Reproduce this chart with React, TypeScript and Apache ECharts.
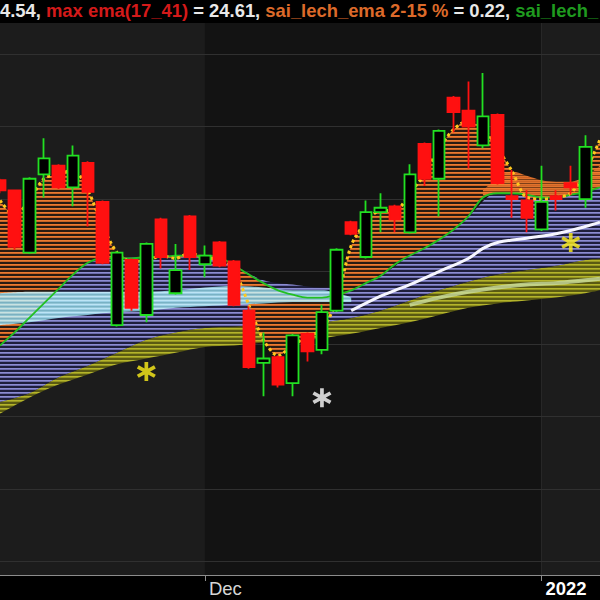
import React, { useEffect, useRef } from "react";
import * as echarts from "echarts";

// ---------- data ----------
const dates = [
  "2021-11-11", "2021-11-12", "2021-11-15", "2021-11-16", "2021-11-17", "2021-11-18", "2021-11-19",
  "2021-11-22", "2021-11-23", "2021-11-24", "2021-11-25", "2021-11-26", "2021-11-29", "2021-11-30",
  "2021-12-01", "2021-12-02", "2021-12-03", "2021-12-06", "2021-12-07", "2021-12-08", "2021-12-09",
  "2021-12-10", "2021-12-13", "2021-12-14", "2021-12-15", "2021-12-16", "2021-12-17", "2021-12-20",
  "2021-12-21", "2021-12-22", "2021-12-23", "2021-12-24", "2021-12-27", "2021-12-28", "2021-12-29",
  "2021-12-30", "2021-12-31", "2022-01-03", "2022-01-04", "2022-01-05", "2022-01-06", "2022-01-07",
];

const tickDates = ["2021-12-01", "2022-01-03"];
const tickTexts = ["Dec", "{b|2022}"];

// [open, close, low, high]
const candles: (number[] | string)[] = [
  [24.63, 24.56, 24.54, 24.64],
  [24.56, 24.17, 24.15, 24.56],
  [24.13, 24.64, 24.12, 24.65],
  [24.67, 24.78, 24.51, 24.92],
  [24.73, 24.58, 24.57, 24.74],
  [24.58, 24.8, 24.45, 24.87],
  [24.75, 24.55, 24.31, 24.76],
  [24.48, 24.06, 24.05, 24.49],
  [23.63, 24.13, 23.62, 24.14],
  [24.08, 23.75, 23.73, 24.09],
  [23.7, 24.19, 23.65, 24.2],
  [24.36, 24.1, 24.02, 24.37],
  [23.85, 24.01, 23.84, 24.19],
  [24.38, 24.1, 24.01, 24.39],
  [24.05, 24.11, 23.96, 24.18],
  [24.2, 24.04, 24.03, 24.21],
  [24.07, 23.77, 23.76, 24.08],
  [23.73, 23.34, 23.33, 23.76],
  [23.37, 23.4, 23.14, 23.58],
  [23.41, 23.22, 23.2, 23.42],
  [23.23, 23.56, 23.14, 23.57],
  [23.57, 23.45, 23.38, 23.58],
  [23.46, 23.72, 23.43, 23.77],
  [23.73, 24.15, 23.72, 24.16],
  [24.34, 24.26, 24.25, 24.35],
  [24.1, 24.41, 24.09, 24.49],
  [24.41, 24.44, 24.27, 24.54],
  [24.45, 24.36, 24.27, 24.46],
  [24.27, 24.67, 24.26, 24.74],
  [24.88, 24.64, 24.59, 24.89],
  [24.64, 24.97, 24.38, 24.98],
  [25.2, 25.1, 24.96, 25.21],
  [25.11, 25.0, 24.71, 25.31],
  [24.87, 25.07, 24.85, 25.37],
  [25.08, 24.61, 24.6, 25.09],
  [24.52, 24.5, 24.37, 24.7],
  [24.49, 24.37, 24.27, 24.56],
  [24.29, 24.48, 24.28, 24.73],
  [24.52, 24.5, 24.42, 24.56],
  [24.61, 24.58, 24.53, 24.73],
  [24.5, 24.86, 24.44, 24.94],
  "-",
];

// fast ema (yellow dotted), one value per candle
const fastEma = [
  24.49, 24.39, 24.49, 24.64, 24.67, 24.7, 24.56, 24.32, 24.13, 24.07, 24.07, 24.11, 24.09, 24.13,
  24.09, 24.09, 24.01, 23.77, 23.53, 23.42, 23.49, 23.55, 23.6, 23.8, 24.18, 24.34, 24.42, 24.42,
  24.54, 24.67, 24.85, 24.98, 25.04, 24.99, 24.85, 24.69, 24.51, 24.5, 24.51, 24.54, 24.69, 24.91,
];

// green ema line, one value per candle
const greenEma = [
  23.49, 23.58, 23.68, 23.78, 23.88, 23.98, 24.06, 24.09, 24.09, 24.09, 24.1, 24.1, 24.11, 24.11,
  24.11, 24.1, 24.04, 23.98, 23.92, 23.87, 23.84, 23.82, 23.82, 23.84, 23.87, 23.92, 23.97, 24.05,
  24.11, 24.16, 24.22, 24.29, 24.38, 24.51, 24.54, 24.54, 24.53, 24.51, 24.51, 24.53, 24.55, 24.58,
];

// dense (converging) short emas just above the green line, last candles
const denseIdx = [33, 34, 35, 36, 37, 38, 39, 40, 41];
const denseLow = [24.51, 24.54, 24.54, 24.53, 24.51, 24.51, 24.53, 24.55, 24.58];
const denseHigh = [24.56, 24.64, 24.69, 24.66, 24.63, 24.62, 24.62, 24.66, 24.73];

// long-ema ribbon edges, sampled every second candle
const bandIdx = [0, 2, 4, 6, 8, 10, 12, 14, 16, 18, 20, 22, 24, 26, 28, 30, 32, 34, 36, 38, 40, 41];
const oliveLow = [23.02, 23.13, 23.22, 23.29, 23.36, 23.4, 23.44, 23.48, 23.49, 23.51, 23.52, 23.54, 23.57, 23.61, 23.65, 23.7, 23.75, 23.78, 23.8, 23.82, 23.85, 23.87];
const oliveHigh = [23.1, 23.16, 23.27, 23.35, 23.44, 23.53, 23.58, 23.61, 23.62, 23.63, 23.64, 23.65, 23.68, 23.73, 23.8, 23.87, 23.93, 23.98, 24.01, 24.04, 24.08, 24.09];
const lavenderHigh = [23.84, 23.89, 23.94, 24.06, 24.09, 24.1, 24.11, 24.11, 24.04, 23.94, 23.91, 23.89, 23.89, 23.97, 24.11, 24.22, 24.38, 24.54, 24.53, 24.51, 24.55, 24.58];

const cyanIdx = [0, 2, 4, 6, 8, 10, 12, 14, 16, 18, 20, 22, 24];
const cyanHigh = [23.85, 23.86, 23.86, 23.86, 23.86, 23.86, 23.87, 23.89, 23.9, 23.89, 23.87, 23.87, 23.82];
const cyanLow = [23.63, 23.65, 23.68, 23.7, 23.72, 23.73, 23.75, 23.76, 23.77, 23.78, 23.79, 23.79, 23.79];

const whiteIdx = [24, 26, 27, 28, 30, 32, 33, 34, 36, 38, 40, 41];
const whiteEma = [23.73, 23.83, 23.87, 23.91, 24.0, 24.09, 24.16, 24.2, 24.23, 24.26, 24.31, 24.34];

const paleIdx = [28, 30, 32, 34, 36, 38, 40, 41];
const paleEma = [23.77, 23.82, 23.86, 23.89, 23.91, 23.92, 23.94, 23.95];

// signal markers
const yellowSignalIdx = [10, 39];
const yellowSignalPrice = [23.31, 24.2];
const whiteSignalIdx = [22];
const whiteSignalPrice = [23.13];

const gridPrices = [22.0, 22.5, 23.0, 23.5, 24.0, 24.5, 25.0, 25.5];

const headerParts: [string, string][] = [
  ["4.54, ", "w"],
  ["max ema(17_41)", "r"],
  [" = 24.61, ", "w"],
  ["sai_lech_ema 2-15 %", "o"],
  [" = 0.22, ", "w"],
  ["sai_lech_", "g"],
];

// ---------- helpers ----------
const FONT = "'Liberation Sans', Arial, sans-serif";
const HEAD_SIZE = 18.4;
const ASTERISK =
  "path://M8.3 1L11.7 1L11.7 19L8.3 19Z M18.7 13.0L17.0 15.95L1.3 7.0L3.0 4.05Z M17.0 4.05L18.7 7.0L3.0 15.95L1.3 13.0Z";

function pairs(idx: number[], vals: number[]) {
  return idx.map((k, j) => [k, vals[j]]);
}

function stripes(rows: string[]): any {
  const c = document.createElement("canvas");
  c.width = 4;
  c.height = rows.length;
  const ctx = c.getContext("2d");
  if (!ctx) return rows[0];
  rows.forEach((col, r) => {
    ctx.fillStyle = col;
    ctx.fillRect(0, r, 4, 1);
  });
  return { image: c, repeat: "repeat" };
}

function band(name: string, idx: number[], low: number[], high: number[], color: any, opacity: number, z: number): any[] {
  return [
    {
      type: "line", name: name + "-base", stack: name, data: pairs(idx, low), symbol: "none",
      smooth: 0.35, lineStyle: { width: 0, opacity: 0 }, silent: true, z,
    },
    {
      type: "line", name, stack: name,
      data: pairs(idx, high.map((h, j) => +(h - low[j]).toFixed(3))), symbol: "none",
      smooth: 0.35, lineStyle: { width: 0, opacity: 0 }, areaStyle: { color, opacity }, silent: true, z,
    },
  ];
}

export default function App() {
  const ref = useRef<HTMLDivElement>(null);

  useEffect(() => {
    if (!ref.current) return;
    const chart = echarts.init(ref.current, undefined, { renderer: "svg" });

    const allIdx = dates.map((_, i) => i);
    const orangeLow = fastEma.map((v, i) => Math.min(v, greenEma[i]));
    const orangeHigh = fastEma.map((v, i) => Math.max(v, greenEma[i]));
    const isTick = (_: number, v: string) => tickDates.includes(v);

    const orangeFill = stripes(["#ec7a30", "#c86426", "#2a1b12", "#2a1b12"]);
    const denseFill = stripes(["#f47c30", "#e06c26", "#f47c30", "#8a4418"]);
    const lavenderFill = stripes(["#8c8cd2", "#6c6cac", "#1e1e3c", "#1e1e3c"]);
    const oliveFill = stripes(["#b4b42c", "#94941e", "#5a5a12", "#5a5a12"]);
    const cyanFill = stripes(["#c4f0fa", "#a2dcec", "#86c6d8", "#a2dcec"]);

    const option: any = {
      animation: false,
      backgroundColor: "#000000",
      title: {
        text: headerParts.map(([t, k]) => `{${k}|${t}}`).join(""),
        left: 0,
        top: 1,
        padding: 0,
        textStyle: {
          fontSize: HEAD_SIZE,
          fontFamily: FONT,
          rich: {
            w: { color: "#e8e8e8", fontSize: HEAD_SIZE, fontFamily: FONT },
            r: { color: "#d41a1a", fontSize: HEAD_SIZE, fontFamily: FONT },
            o: { color: "#dc6a2a", fontSize: HEAD_SIZE, fontFamily: FONT },
            g: { color: "#1f9a1f", fontSize: HEAD_SIZE, fontFamily: FONT },
          },
        },
      },
      grid: {
        left: 0, width: 604.5, top: 23, bottom: 25,
        show: true, backgroundColor: "#1c1c1c", borderWidth: 0,
      },
      xAxis: {
        type: "category",
        data: dates,
        boundaryGap: false,
        axisLine: { lineStyle: { color: "#8c8c8c", width: 1 } },
        axisTick: { show: true, interval: isTick, length: 6, lineStyle: { color: "#8c8c8c" } },
        axisLabel: {
          interval: isTick,
          formatter: (v: string) => {
            const k = tickDates.indexOf(v);
            return k >= 0 ? tickTexts[k] : "";
          },
          align: "left",
          margin: 4,
          padding: [0, 0, 0, 4],
          color: "#d6d6d6",
          fontSize: 18.5,
          fontFamily: FONT,
          rich: { b: { color: "#ffffff", fontWeight: "bold", fontSize: 18.5, fontFamily: FONT } },
        },
        splitLine: { show: true, interval: isTick, lineStyle: { color: "#3a3a3a", width: 1 } },
      },
      yAxis: {
        type: "value",
        min: 21.907,
        max: 25.714,
        show: false,
        splitLine: { show: false },
      },
      series: [
        {
          type: "line",
          name: "frame",
          data: [],
          z: 0,
          silent: true,
          markArea: {
            silent: true,
            z: 0,
            itemStyle: { color: "#131313" },
            data: [[{ xAxis: tickDates[0] }, { xAxis: tickDates[1] }]],
          },
          markLine: {
            silent: true,
            z: 0,
            symbol: ["none", "none"],
            label: { show: false },
            lineStyle: { color: "#303030", type: "solid", width: 1 },
            data: gridPrices.map((v) => ({ yAxis: v })),
          },
        },
        ...band("olive", bandIdx, oliveLow, oliveHigh, oliveFill, 1, 2),
        ...band("lavender", bandIdx, oliveHigh, lavenderHigh, lavenderFill, 1, 2),
        ...band("orange", allIdx, orangeLow, orangeHigh, orangeFill, 1, 3),
        ...band("dense", denseIdx, denseLow, denseHigh, denseFill, 0.9, 3),
        ...band("cyan", cyanIdx, cyanLow, cyanHigh, cyanFill, 0.88, 3),
        {
          type: "line", name: "pale", data: pairs(paleIdx, paleEma), symbol: "none", smooth: 0.35,
          lineStyle: { color: "#c9dca0", width: 4, opacity: 0.8 }, silent: true, z: 3,
        },
        {
          type: "line", name: "white", data: pairs(whiteIdx, whiteEma), symbol: "none", smooth: 0.35,
          lineStyle: { color: "#f6f6ff", width: 3 }, silent: true, z: 3,
        },
        {
          type: "line", name: "green", data: greenEma, symbol: "none", smooth: 0.3,
          lineStyle: { color: "#22c022", width: 1.8 }, silent: true, z: 4,
        },
        {
          type: "line", name: "fast", data: fastEma, symbol: "none", smooth: 0.3,
          lineStyle: { color: "#ffc81e", width: 3, type: "dotted" }, silent: true, z: 4,
        },
        {
          type: "candlestick",
          name: "price",
          data: candles,
          barWidth: 12,
          z: 5,
          itemStyle: {
            color: "#000000",
            color0: "#ff1010",
            borderColor: "#22e022",
            borderColor0: "#ff1010",
            borderWidth: 1.8,
          },
        },
        {
          type: "scatter", name: "buy", symbol: ASTERISK, symbolSize: 19, z: 6,
          data: pairs(yellowSignalIdx, yellowSignalPrice),
          itemStyle: { color: "#fff01a" },
        },
        {
          type: "scatter", name: "sell", symbol: ASTERISK, symbolSize: 19, z: 6,
          data: pairs(whiteSignalIdx, whiteSignalPrice),
          itemStyle: { color: "#ffffff" },
        },
      ],
    };

    chart.setOption(option);
    return () => chart.dispose();
  }, []);

  return (
    <div
      ref={ref}
      style={{ position: "fixed", left: 0, top: 0, width: 600, height: 600 }}
    />
  );
}
